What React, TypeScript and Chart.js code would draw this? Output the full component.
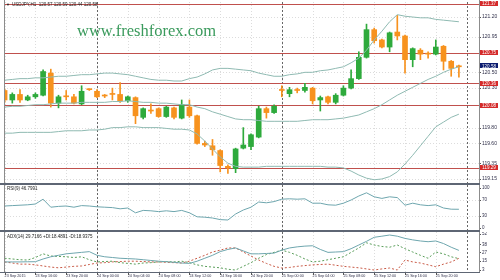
import React, { useEffect, useRef } from 'react';
import { Chart, registerables } from 'chart.js';

Chart.register(...registerables);

// ---------------- data ----------------
const HEADER = 'USDJPY,H1  120.57 120.59 120.44 120.58';
const WATERMARK = 'www.freshforex.com';
const RSI_LABEL = 'RSI(9) 46.7991';
const ADX_LABEL = 'ADX(14) 29.7166 +DI:18.4891 -DI:18.9375';

const OPEN = [
  120.27, 120.15, 120.22, 120.15, 120.19, 120.21, 120.49, 120.11, 120.19, 120.19,
  120.10, 120.28, 120.26, 120.20, 120.22, 120.22, 120.14, 120.18, 119.93, 120.01,
  120.04, 119.94, 120.05, 119.92, 120.06, 119.95, 119.60, 119.57, 119.51, 119.31,
  119.28, 119.54, 119.56, 119.68, 120.04, 119.99, 120.27, 120.23, 120.27, 120.27,
  120.30, 120.15, 120.19, 120.12, 120.21, 120.30, 120.42, 120.69, 121.04, 120.91,
  120.82, 121.01, 120.96, 120.66, 120.78, 120.73, 120.73, 120.83, 120.64, 120.57,
];
const HIGH = [
  120.29, 120.24, 120.28, 120.21, 120.24, 120.53, 120.54, 120.21, 120.27, 120.22,
  120.33, 120.29, 120.28, 120.22, 120.30, 120.37, 120.20, 120.19, 120.05, 120.10,
  120.05, 120.07, 120.06, 120.15, 120.15, 119.96, 119.63, 119.65, 119.52, 119.33,
  119.54, 119.80, 119.72, 120.07, 120.06, 120.09, 120.33, 120.31, 120.30, 120.36,
  120.31, 120.20, 120.20, 120.23, 120.33, 120.53, 120.76, 121.11, 121.06, 120.92,
  121.01, 121.22, 120.97, 120.81, 120.80, 120.76, 120.91, 120.84, 120.65, 120.59,
];
const LOW = [
  120.12, 120.11, 120.12, 120.14, 120.17, 120.20, 120.06, 120.05, 120.15, 120.10,
  120.09, 120.27, 120.18, 120.18, 120.15, 120.12, 120.12, 119.85, 119.91, 119.98,
  119.93, 119.93, 119.91, 119.91, 119.93, 119.59, 119.56, 119.45, 119.24, 119.22,
  119.23, 119.53, 119.52, 119.67, 119.92, 119.98, 120.19, 120.19, 120.24, 120.25,
  120.10, 120.01, 120.10, 120.10, 120.20, 120.29, 120.41, 120.68, 120.87, 120.81,
  120.76, 120.91, 120.49, 120.57, 120.66, 120.68, 120.72, 120.53, 120.45, 120.44,
];
const CLOSE = [
  120.15, 120.22, 120.15, 120.19, 120.22, 120.51, 120.11, 120.19, 120.20, 120.11,
  120.26, 120.28, 120.19, 120.20, 120.22, 120.14, 120.19, 119.95, 120.04, 120.01,
  119.94, 120.06, 119.93, 120.09, 119.95, 119.60, 119.58, 119.52, 119.32, 119.29,
  119.53, 119.58, 119.71, 120.04, 119.99, 120.07, 120.27, 120.28, 120.27, 120.31,
  120.14, 120.18, 120.12, 120.21, 120.30, 120.42, 120.69, 121.04, 120.90, 120.82,
  121.00, 120.96, 120.66, 120.80, 120.73, 120.73, 120.82, 120.64, 120.55, 120.58,
];
const BB_UPPER = [
  120.40, 120.41, 120.42, 120.42, 120.43, 120.43, 120.44, 120.45, 120.45, 120.46,
  120.47, 120.47, 120.48, 120.49, 120.49, 120.48, 120.47, 120.45, 120.43, 120.41,
  120.40, 120.40, 120.39, 120.39, 120.42, 120.44, 120.48, 120.53, 120.55, 120.55,
  120.54, 120.53, 120.52, 120.49, 120.47, 120.45, 120.45, 120.47, 120.48, 120.50,
  120.50, 120.52, 120.53, 120.55, 120.57, 120.62, 120.68, 120.78, 120.91, 121.02,
  121.14, 121.23, 121.21, 121.20, 121.19, 121.19, 121.17, 121.16, 121.15, 121.14,
];
const BB_MIDDLE = [
  120.06, 120.07, 120.07, 120.08, 120.09, 120.09, 120.10, 120.11, 120.11, 120.11,
  120.12, 120.12, 120.12, 120.12, 120.13, 120.13, 120.14, 120.13, 120.12, 120.12,
  120.11, 120.11, 120.10, 120.09, 120.09, 120.06, 120.04, 120.00, 119.97, 119.94,
  119.91, 119.90, 119.90, 119.89, 119.88, 119.88, 119.88, 119.88, 119.88, 119.89,
  119.90, 119.90, 119.90, 119.91, 119.92, 119.94, 119.96, 120.00, 120.04, 120.09,
  120.15, 120.21, 120.26, 120.31, 120.36, 120.41, 120.45, 120.50, 120.54, 120.57,
];
const BB_LOWER = [
  119.73, 119.73, 119.74, 119.74, 119.74, 119.74, 119.74, 119.75, 119.76, 119.76,
  119.76, 119.77, 119.77, 119.78, 119.80, 119.80, 119.81, 119.81, 119.80, 119.80,
  119.80, 119.79, 119.78, 119.78, 119.77, 119.72, 119.63, 119.53, 119.43, 119.35,
  119.31, 119.30, 119.30, 119.30, 119.31, 119.31, 119.31, 119.31, 119.31, 119.31,
  119.31, 119.31, 119.30, 119.30, 119.29, 119.25, 119.20, 119.16, 119.14, 119.15,
  119.18, 119.24, 119.34, 119.45, 119.57, 119.69, 119.81, 119.87, 119.93, 119.97,
];
const RSI = [
  55, 56, 57, 58, 60, 72, 52, 54, 55, 52,
  56, 55, 53, 52, 51, 48, 50, 38, 44, 43,
  41, 43, 41, 44, 38, 28, 27, 25, 21, 20,
  35, 45, 52, 65, 63, 66, 72, 73, 72, 73,
  62, 62, 58, 57, 62, 70, 80, 88, 78, 74,
  78, 76, 57, 62, 58, 56, 58, 50, 47, 46.8,
];
const ADX = [
  14, 14, 14, 14.2, 14.3, 18, 21, 23, 25, 26,
  27, 28, 23, 21, 20, 19, 18.5, 18, 17, 16,
  15, 14.3, 13.5, 12.5, 12, 15, 19, 23, 28, 31,
  33, 29, 25, 25, 25.5, 26, 30, 33, 34.5, 35.5,
  36, 31, 27, 27.5, 28, 32, 37, 42, 47.5, 49,
  50.6, 49, 46, 44, 42.5, 41.5, 42.5, 39, 34, 29.7,
];
const PLUS_DI = [
  19, 18, 17, 16.6, 20, 25, 22, 21.5, 21, 20,
  21, 17, 14, 14.5, 15, 13, 12, 11, 12.5, 13,
  14, 14.5, 14, 15, 13, 10, 8, 7, 6, 4,
  3, 8, 13, 19, 24, 27, 30, 27, 23, 18,
  14, 15, 17, 19, 21, 27, 33, 40, 37, 35,
  34, 37, 32, 27.5, 23, 19, 27.5, 25, 21, 18.49,
];
const MINUS_DI = [
  14, 12.5, 11, 11, 10, 8.5, 7, 6, 7, 8,
  8.5, 10.5, 12.5, 13, 14, 14.5, 15, 15, 14.5, 14,
  14, 13.5, 13, 12.5, 15, 19, 23, 27.5, 30, 33,
  33, 27.5, 22, 16.6, 12, 8, 5.7, 6.5, 8, 9,
  10, 10.5, 11, 9.5, 8, 7, 6, 4.5, 3, 4.5,
  5.7, 3, 16.6, 14, 12.5, 10, 7.5, 11, 14, 18.94,
];
const TIME_TICKS = [0, 4, 8, 12, 16, 20, 24, 28, 32, 36, 40, 44, 48, 52, 56];
const TIME_LABELS = [
  '23 Sep 2015', '23 Sep 16:00', '23 Sep 20:00', '24 Sep 00:00', '24 Sep 04:00',
  '24 Sep 08:00', '24 Sep 12:00', '24 Sep 16:00', '24 Sep 20:00', '25 Sep 00:00',
  '25 Sep 04:00', '25 Sep 08:00', '25 Sep 12:00', '25 Sep 16:00', '25 Sep 20:00',
];
const DAY_SEPARATORS = [12, 36, 60];
const PRICE_TICKS = [121.2, 120.95, 120.5, 120.3, 119.8, 119.6, 119.35, 119.15];
const LEVELS = [121.37, 120.75, 120.36, 120.08, 119.29];
const LAST_PRICE = 120.58;
const RSI_TICKS = [100, 70, 30, 0];
const RSI_LEVELS = [70, 30];
const ADX_TICKS = [52, 38, 27, 15, 3];

// axis ranges
const X_MIN = -0.078;
const X_MAX = 61.61;
const PRICE_MIN = 119.099;
const PRICE_MAX = 121.39;
const RSI_MIN = -5;
const RSI_MAX = 107.5;
const ADX_MIN = 0.3;
const ADX_MAX = 54.7;

// ---------------- styles ----------------
const FONT = '"Liberation Sans", Arial, sans-serif';
const GREEN = '#2eaa3c';
const ORANGE = '#f7921e';
const BB_COLOR = '#8fbab2';
const IND_COLOR = '#6ea6ae';
const LEVEL_COLOR = '#c0504d';
const SEP_COLOR = '#5e6674';
const FRAME_COLOR = '#8c8c8c';
const AXIS_TEXT = '#30304a';

const IDX = OPEN.map((_, i) => i);

function hiddenX() {
  return { type: 'linear', min: X_MIN, max: X_MAX, offset: false, display: false };
}

function rightAxis(min: number, max: number, ticks: number[], fmt: (v: number) => string, size: number) {
  return {
    type: 'linear',
    position: 'right',
    min,
    max,
    grid: { display: false, drawTicks: false, tickLength: 0 },
    border: { display: false },
    afterBuildTicks: (s: any) => {
      s.ticks = ticks.map((v) => ({ value: v }));
    },
    afterFit: (s: any) => {
      s.width = 21;
      s.paddingTop = 0;
      s.paddingBottom = 0;
    },
    ticks: {
      autoSkip: false,
      padding: 3,
      color: AXIS_TEXT,
      font: { size, family: FONT },
      callback: (v: any) => fmt(Number(v)),
    },
  };
}

function vGrid(chart: any) {
  const ctx = chart.ctx;
  const xs = chart.scales.x;
  const { top, bottom, right } = chart.chartArea;
  ctx.save();
  ctx.lineWidth = 1;
  ctx.strokeStyle = '#dcdcdc';
  ctx.setLineDash([1, 2]);
  for (const t of TIME_TICKS) {
    const px = Math.round(xs.getPixelForValue(t)) + 0.5;
    ctx.beginPath();
    ctx.moveTo(px, top);
    ctx.lineTo(px, bottom);
    ctx.stroke();
  }
  ctx.strokeStyle = '#666';
  ctx.setLineDash([2, 2]);
  for (const d of DAY_SEPARATORS) {
    const px = Math.round(xs.getPixelForValue(d)) + 0.5;
    if (px > right) continue;
    ctx.beginPath();
    ctx.moveTo(px, top);
    ctx.lineTo(px, bottom);
    ctx.stroke();
  }
  ctx.restore();
}

function hGrid(chart: any, values: number[]) {
  const ctx = chart.ctx;
  const ys = chart.scales.y;
  const { left, right } = chart.chartArea;
  ctx.save();
  ctx.lineWidth = 1;
  ctx.strokeStyle = '#dcdcdc';
  ctx.setLineDash([1, 2]);
  for (const v of values) {
    const py = Math.round(ys.getPixelForValue(v)) + 0.5;
    ctx.beginPath();
    ctx.moveTo(left, py);
    ctx.lineTo(right, py);
    ctx.stroke();
  }
  ctx.restore();
}

function frame(chart: any, ticks: number[], sepBottom: boolean) {
  const ctx = chart.ctx;
  const ys = chart.scales.y;
  const { left, right, bottom } = chart.chartArea;
  ctx.save();
  ctx.fillStyle = FRAME_COLOR;
  ctx.fillRect(left, 0, 1, bottom);
  ctx.fillRect(right, 0, 1, bottom);
  ctx.fillStyle = '#555';
  for (const v of ticks) {
    const py = Math.round(ys.getPixelForValue(v));
    ctx.fillRect(right + 1, py, 1, 1);
  }
  if (sepBottom) {
    ctx.fillStyle = SEP_COLOR;
    ctx.fillRect(0, bottom, right + 1, 2);
  }
  ctx.restore();
}

function label(chart: any, text: string, x: number, y: number) {
  const ctx = chart.ctx;
  ctx.save();
  ctx.font = `4.5px ${FONT}`;
  ctx.fillStyle = '#222';
  ctx.textAlign = 'left';
  ctx.textBaseline = 'middle';
  ctx.fillText(text, x, y);
  ctx.restore();
}

const mainDecor = {
  id: 'mainDecor',
  beforeDatasetsDraw(chart: any) {
    const ctx = chart.ctx;
    const ys = chart.scales.y;
    const { left, right } = chart.chartArea;
    hGrid(chart, PRICE_TICKS);
    vGrid(chart);
    ctx.save();
    ctx.font = '16.5px "Liberation Serif", "Times New Roman", serif';
    ctx.fillStyle = '#3a9a5c';
    ctx.textAlign = 'left';
    ctx.textBaseline = 'alphabetic';
    ctx.fillText(WATERMARK, 77, 36);
    ctx.strokeStyle = LEVEL_COLOR;
    ctx.lineWidth = 1;
    for (const lv of LEVELS) {
      const py = Math.round(ys.getPixelForValue(lv)) + 0.5;
      ctx.beginPath();
      ctx.moveTo(left, py);
      ctx.lineTo(right, py);
      ctx.stroke();
    }
    ctx.restore();
  },
  afterDraw(chart: any) {
    const ctx = chart.ctx;
    const ys = chart.scales.y;
    const { right } = chart.chartArea;
    frame(chart, PRICE_TICKS, true);
    ctx.save();
    ctx.font = `4.5px ${FONT}`;
    ctx.textAlign = 'center';
    ctx.textBaseline = 'middle';
    const box = (v: number, color: string) => {
      const py = ys.getPixelForValue(v);
      ctx.fillStyle = color;
      ctx.fillRect(right + 1, Math.round(py - 2.5), 18, 5);
      ctx.fillStyle = '#fff';
      ctx.fillText(v.toFixed(2), right + 10, py + 0.3);
    };
    for (const lv of LEVELS) box(lv, '#d42a2a');
    box(LAST_PRICE, '#0c1c70');
    ctx.fillStyle = '#222';
    ctx.font = `4px ${FONT}`;
    ctx.textAlign = 'left';
    ctx.fillText('▼', 6, 5);
    ctx.restore();
    label(chart, HEADER, 12, 5);
  },
};

const rsiDecor = {
  id: 'rsiDecor',
  beforeDatasetsDraw(chart: any) {
    hGrid(chart, RSI_LEVELS);
    vGrid(chart);
  },
  afterDraw(chart: any) {
    frame(chart, RSI_TICKS, true);
    label(chart, RSI_LABEL, 7, 4);
  },
};

const adxDecor = {
  id: 'adxDecor',
  beforeDatasetsDraw(chart: any) {
    vGrid(chart);
  },
  afterDraw(chart: any) {
    frame(chart, ADX_TICKS, false);
    const ctx = chart.ctx;
    const xs = chart.scales.x;
    const { bottom, right } = chart.chartArea;
    ctx.save();
    ctx.fillStyle = SEP_COLOR;
    ctx.fillRect(0, bottom, right + 1, 1);
    ctx.fillStyle = '#555';
    for (const t of TIME_TICKS) {
      ctx.fillRect(Math.round(xs.getPixelForValue(t)), bottom + 1, 1, 2);
    }
    ctx.restore();
    label(chart, ADX_LABEL, 7, 5);
  },
};

const common = {
  responsive: false,
  maintainAspectRatio: false,
  animation: false,
  devicePixelRatio: 1,
  events: [] as any[],
};

function mainConfig(): any {
  const colors = IDX.map((i) => (CLOSE[i] - OPEN[i] > 0.015 ? GREEN : ORANGE));
  const line = (arr: number[]) => ({
    type: 'line',
    data: IDX.map((i) => ({ x: i, y: arr[i] })),
    borderColor: BB_COLOR,
    borderWidth: 1,
    pointRadius: 0,
    fill: false,
    order: 1,
  });
  return {
    type: 'bar',
    data: {
      datasets: [
        {
          type: 'bar',
          data: IDX.map((i) => ({ x: i, y: [LOW[i], HIGH[i]] })),
          backgroundColor: colors,
          barThickness: 1,
          grouped: false,
          borderWidth: 0,
          order: 3,
        },
        {
          type: 'bar',
          data: IDX.map((i) => ({ x: i, y: [OPEN[i], CLOSE[i]] })),
          backgroundColor: colors,
          barThickness: 5,
          minBarLength: 1,
          grouped: false,
          borderWidth: 0,
          order: 2,
        },
        line(BB_UPPER),
        line(BB_MIDDLE),
        line(BB_LOWER),
      ],
    },
    options: {
      ...common,
      layout: { padding: { left: 4, top: 2, right: 0, bottom: 2 } },
      plugins: { legend: { display: false }, tooltip: { enabled: false } },
      scales: {
        x: hiddenX(),
        y: rightAxis(PRICE_MIN, PRICE_MAX, PRICE_TICKS, (v) => v.toFixed(2), 5),
      },
    },
    plugins: [mainDecor],
  };
}

function rsiConfig(): any {
  return {
    type: 'line',
    data: {
      datasets: [
        {
          data: IDX.map((i) => ({ x: i, y: RSI[i] })),
          borderColor: IND_COLOR,
          borderWidth: 1,
          pointRadius: 0,
          fill: false,
        },
      ],
    },
    options: {
      ...common,
      layout: { padding: { left: 4, top: 0, right: 0, bottom: 2 } },
      plugins: { legend: { display: false }, tooltip: { enabled: false } },
      scales: {
        x: hiddenX(),
        y: rightAxis(RSI_MIN, RSI_MAX, RSI_TICKS, (v) => String(v), 4.5),
      },
    },
    plugins: [rsiDecor],
  };
}

function adxConfig(): any {
  const ds = (arr: number[], color: string, dash: number[]) => ({
    data: IDX.map((i) => ({ x: i, y: arr[i] })),
    borderColor: color,
    borderWidth: 1,
    borderDash: dash,
    pointRadius: 0,
    fill: false,
  });
  return {
    type: 'line',
    data: {
      datasets: [
        ds(ADX, IND_COLOR, []),
        ds(PLUS_DI, '#5a9e5a', [2, 2]),
        ds(MINUS_DI, '#c85a46', [2, 2]),
      ],
    },
    options: {
      ...common,
      layout: { padding: { left: 4, top: 0, right: 0, bottom: 0 } },
      plugins: { legend: { display: false }, tooltip: { enabled: false } },
      scales: {
        x: {
          type: 'linear',
          min: X_MIN,
          max: X_MAX,
          offset: false,
          grid: { display: false, drawTicks: false, tickLength: 0 },
          border: { display: false },
          afterBuildTicks: (s: any) => {
            s.ticks = TIME_TICKS.map((v) => ({ value: v }));
          },
          afterFit: (s: any) => {
            s.height = 8;
            s.paddingLeft = 0;
            s.paddingRight = 0;
          },
          ticks: {
            autoSkip: false,
            maxRotation: 0,
            minRotation: 0,
            align: 'start',
            padding: 2,
            color: AXIS_TEXT,
            font: { size: 3.7, family: FONT },
            callback: (v: any) => {
              const k = TIME_TICKS.indexOf(Number(v));
              return k >= 0 ? TIME_LABELS[k] : '';
            },
          },
        },
        y: rightAxis(ADX_MIN, ADX_MAX, ADX_TICKS, (v) => String(v), 4.5),
      },
    },
    plugins: [adxDecor],
  };
}

export default function App() {
  const mainRef = useRef<HTMLCanvasElement>(null);
  const rsiRef = useRef<HTMLCanvasElement>(null);
  const adxRef = useRef<HTMLCanvasElement>(null);

  useEffect(() => {
    const charts = [
      new Chart(mainRef.current as HTMLCanvasElement, mainConfig()),
      new Chart(rsiRef.current as HTMLCanvasElement, rsiConfig()),
      new Chart(adxRef.current as HTMLCanvasElement, adxConfig()),
    ];
    return () => charts.forEach((c) => c.destroy());
  }, []);

  const abs = (top: number, h: number): React.CSSProperties => ({
    position: 'absolute',
    left: 0,
    top,
    width: 500,
    height: h,
    display: 'block',
  });

  return (
    <div style={{ position: 'absolute', left: 0, top: 0, width: 500, height: 280, background: '#fff', overflow: 'hidden' }}>
      <canvas ref={mainRef} width={500} height={185} style={abs(0, 185)} />
      <canvas ref={rsiRef} width={500} height={47} style={abs(185, 47)} />
      <canvas ref={adxRef} width={500} height={48} style={abs(232, 48)} />
    </div>
  );
}
